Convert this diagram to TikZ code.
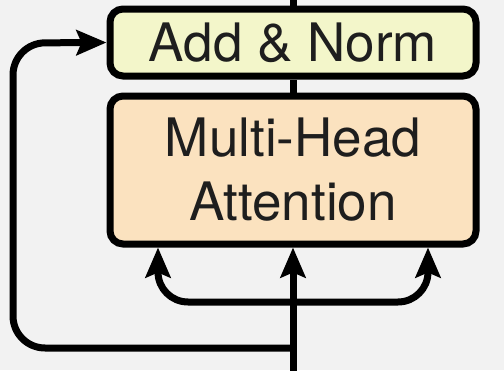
\documentclass[tikz,border=0pt]{standalone}
\usepackage{fontspec}
\setmainfont{TeX Gyre Heros}
\usetikzlibrary{arrows.meta}
\definecolor{bgcol}{RGB}{242,242,242}
\definecolor{normfill}{RGB}{243,246,202}
\definecolor{attnfill}{RGB}{251,226,191}
\definecolor{txtcol}{RGB}{30,30,30}
\begin{document}
\begin{tikzpicture}[x=1pt,y=-1pt,
  block/.style={draw=black, line width=7pt, rounded corners=13pt, minimum width=366pt,
    text=txtcol, font=\fontsize{53}{64}\selectfont, align=center, inner sep=0pt},
  wire/.style={draw=black, line width=7pt},
  flow/.style={wire, -{Stealth[length=30pt,width=25pt,inset=5pt]}}]
  \fill[bgcol] (0,0) rectangle (504,370);
  \useasboundingbox (0,0) rectangle (504,370);
  % sublayer blocks
  \node[block, fill=normfill, minimum height=67pt] (addnorm) at (293,42.5) {Add \& Norm};
  \node[block, fill=attnfill, minimum height=148pt] (mha) at (293,170) {Multi-Head\\Attention};
  % entry, split and key/query/value inputs
  \coordinate (in) at (293,375);
  \coordinate (split) at (293,302);
  \coordinate (res) at (293,348);
  \coordinate (top) at (293,-5);
  \draw[wire] (addnorm.north) -- (top);
  \draw[wire] (mha.north) -- (addnorm.south);
  \draw[flow] (in) -- (mha.south);
  \draw[flow, rounded corners=30pt] (split) -| ([xshift=-135pt]mha.south);
  \draw[flow, rounded corners=30pt] (split) -| ([xshift=135pt]mha.south);
  % residual connection
  \draw[flow, rounded corners=32pt] (res) -| (13,43) -- (addnorm.west);
\end{tikzpicture}
\end{document}
